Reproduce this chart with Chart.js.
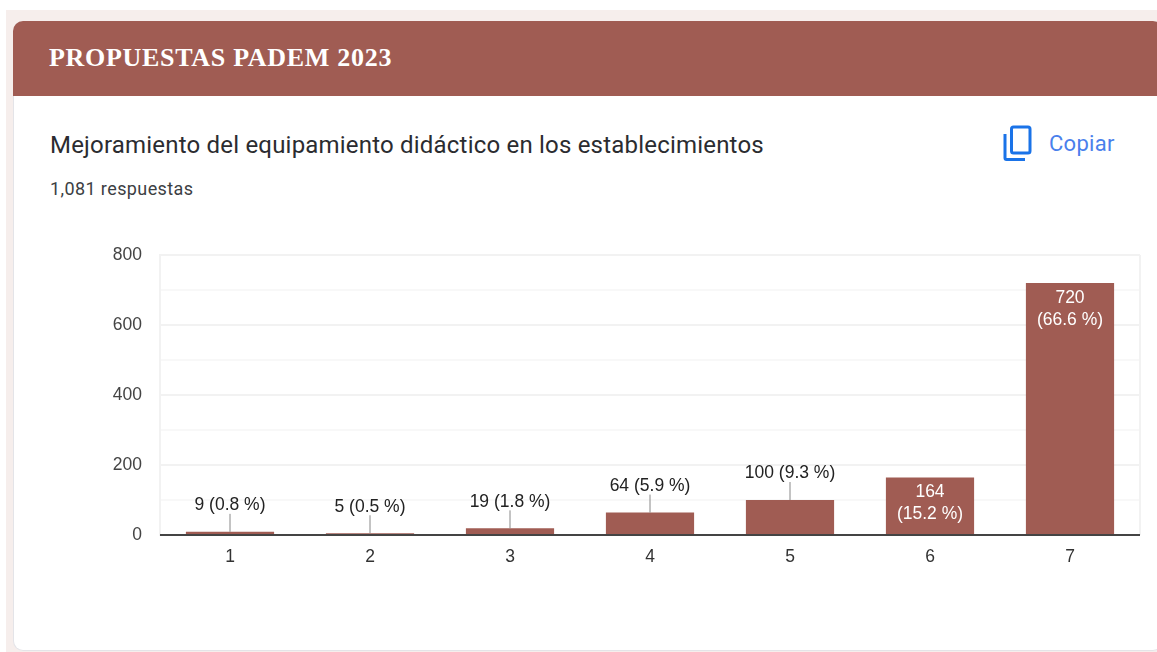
<!DOCTYPE html>
<html lang="es">
<head>
<meta charset="utf-8">
<title>Propuestas PADEM 2023</title>
<script src="https://cdn.jsdelivr.net/npm/chart.js@4"></script>
<style>
html,body{margin:0;padding:0;background:#fff;width:1157px;height:652px;overflow:hidden}
#bg{position:absolute;left:6px;top:10px;right:0;bottom:0;background:#f6eeec}
#card{position:absolute;left:13px;top:21px;width:1150px;height:630px;background:#fff;border-radius:10px;border:1px solid #e4e4e8;border-top:0;box-sizing:border-box;overflow:hidden}
#head{position:absolute;left:13px;top:21px;width:1150px;height:75px;background:#a05c53;border-radius:10px 10px 0 0}
#title{position:absolute;left:49px;top:43px;font:bold 26px "Liberation Serif",serif;letter-spacing:.7px;color:#fff;white-space:nowrap}
#q{position:absolute;left:50px;top:131px;font:24px Roboto,sans-serif;letter-spacing:.2px;color:#2b2c30;white-space:nowrap}
#n{position:absolute;left:50px;top:178px;font:18px Roboto,sans-serif;letter-spacing:.4px;color:#3c4043;white-space:nowrap}
#copy{position:absolute;left:1049px;top:131px;font:400 22px Roboto,sans-serif;letter-spacing:.3px;color:#4a80ec;white-space:nowrap}
#icon{position:absolute;left:1002px;top:125px}
canvas{position:absolute;left:0;top:0}
</style>
</head>
<body>
<div id="bg"></div>
<div id="card"></div>
<div id="head"></div>
<div id="title">PROPUESTAS PADEM 2023</div>
<div id="q">Mejoramiento del equipamiento didáctico en los establecimientos</div>
<div id="n">1,081 respuestas</div>
<svg id="icon" width="30" height="36" viewBox="0 0 30 36" fill="none" stroke="#1a73e8" stroke-width="3">
<rect x="9.5" y="2" width="18.5" height="26" rx="2"/>
<path d="M3 9V33a1.500 1.500 0 0 0 1.500 1.500H23"/>
</svg>
<div id="copy">Copiar</div>
<canvas id="c" width="1157" height="652"></canvas>
<script>
const categories = ['1','2','3','4','5','6','7'];
const counts = [9,5,19,64,100,164,720];
const percents = ['0.8','0.5','1.8','5.9','9.3','15.2','66.6'];
const labelledTicks = [0,200,400,600,800];
const barColor = '#a05c53';
const font = '"Liberation Sans",Arial,sans-serif';

const annotate = {
  id:'annotate',
  afterDatasetsDraw(chart){
    const {ctx,scales:{x,y},chartArea:a} = chart;
    ctx.save();
    ctx.strokeStyle='#f2f2f2';ctx.lineWidth=2;
    ctx.beginPath();ctx.moveTo(a.right,a.top);ctx.lineTo(a.right,a.bottom);ctx.stroke();
    ctx.strokeStyle='#444';ctx.lineWidth=2;
    ctx.beginPath();ctx.moveTo(a.left,a.bottom);ctx.lineTo(a.right,a.bottom);ctx.stroke();
    ctx.font='17.5px '+font;ctx.textAlign='center';ctx.textBaseline='middle';
    counts.forEach((v,i)=>{
      const cx=x.getPixelForValue(i), top=y.getPixelForValue(v);
      if(v>150){
        ctx.fillStyle='#fff';
        ctx.fillText(String(v),cx,top+15);
        ctx.fillText('('+percents[i]+' %)',cx,top+37);
      }else{
        ctx.strokeStyle='#888';ctx.lineWidth=1;
        ctx.beginPath();ctx.moveTo(Math.round(cx),top);ctx.lineTo(Math.round(cx),top-18);ctx.stroke();
        ctx.fillStyle='#222';
        ctx.fillText(v+' ('+percents[i]+' %)',cx,top-26.500);
      }
    });
    ctx.restore();
  }
};

new Chart(document.getElementById('c'),{
  type:'bar',
  plugins:[annotate],
  data:{labels:categories,datasets:[{data:counts,backgroundColor:barColor,barPercentage:0.63,categoryPercentage:1}]},
  options:{
    responsive:false,animation:false,
    layout:{padding:{left:100,right:17,top:255,bottom:67}},
    plugins:{legend:{display:false},tooltip:{enabled:false},title:{display:false}},
    scales:{
      x:{
        afterFit(s){s.height=50;},
        grid:{display:false},border:{display:false},
        ticks:{color:'#333',font:{family:font,size:17.5},padding:4,maxRotation:0}
      },
      y:{
        min:0,max:800,
        afterFit(s){s.width=60;},
        border:{color:'#f2f2f2',width:2},
        grid:{drawTicks:false,lineWidth:2,color:c=>c.tick.value%200===0?'#f2f2f2':'#f8f8f8'},
        ticks:{stepSize:100,autoSkip:false,color:'#444',padding:18,font:{family:font,size:17.5},
          callback:v=>labelledTicks.includes(v)?String(v):''}
      }
    }
  }
});
</script>
</body>
</html>
